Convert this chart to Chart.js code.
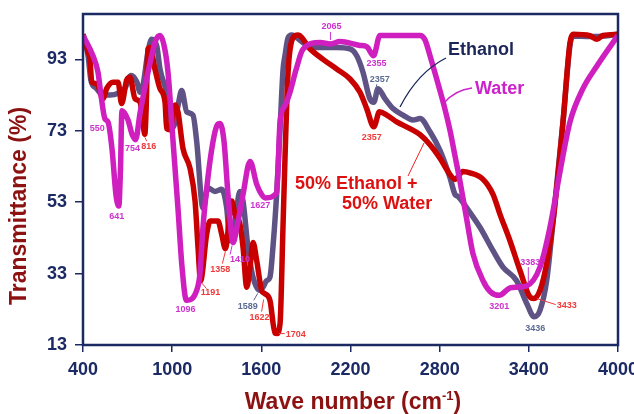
<!DOCTYPE html>
<html>
<head>
<meta charset="utf-8">
<script src="https://cdn.jsdelivr.net/npm/chart.js@4/dist/chart.umd.min.js"></script>
<style>
  html, body { margin: 0; padding: 0; background: #ffffff; }
  #wrap { width: 634px; height: 414px; }
</style>
</head>
<body>
<div id="wrap"><canvas id="c" width="634" height="414"></canvas></div>
<script>
// Axis ticks
const xTicks = [400, 1000, 1600, 2200, 2800, 3400, 4000];
const yTicks = [13, 33, 53, 73, 93];

// 50% ethanol + 50% water extract: wave number (cm-1) / transmittance (%)
const mixWn = [400, 434, 447, 459, 492, 535, 559, 602, 636, 660, 694, 716, 750, 784, 804, 816, 824, 837, 851, 884,
  918, 952, 963, 985, 1019, 1039, 1073, 1120, 1154, 1174, 1191, 1232, 1255, 1308, 1333, 1358, 1401, 1423, 1456, 1477,
  1502, 1524, 1544, 1569, 1602, 1622, 1658, 1692, 1704, 1726, 1745, 1759, 1780, 1813, 1847, 1928, 2015, 2107, 2197, 2264,
  2309, 2357, 2395, 2444, 2511, 2600, 2668, 2735, 2802, 2870, 2903, 2957, 3004, 3092, 3159, 3206, 3273, 3341, 3408, 3433,
  3495, 3563, 3630, 3677, 3697, 3811, 3859, 3899, 4000];
const mixT = [100, 95, 93, 86.6, 86.2, 82, 84.8, 86.6, 86.6, 80.6, 87.2, 88, 82, 81, 75, 72, 78, 95.9, 96.3, 90.3,
  84.8, 81, 73.6, 73.3, 80.2, 78.3, 68, 62.5, 53.3, 40.3, 31, 44, 47.7, 47.7, 44.1, 40, 53.3, 49.6, 46.9, 40.3,
  29.2, 34.8, 41.7, 36.6, 28.3, 27.4, 25.5, 16.3, 16.2, 19, 45, 65, 89.4, 99, 99.8, 95.9, 93, 90.3, 87.5, 83.8,
  79.2, 74.1, 78.3, 77.4, 75.5, 73.6, 71.9, 69.1, 65.3, 60.7, 59.4, 61.6, 61.2, 59.4, 55.2, 49.6, 42.2, 33.8, 26.4, 26,
  31, 47.7, 75.5, 97.7, 100, 99.6, 98.6, 99.7, 100];

// Ethanol extract
const ethWn = [400, 434, 454, 487, 535, 582, 636, 683, 723, 763, 784, 804, 837, 862, 896, 918, 963, 1006, 1039, 1064,
  1098, 1140, 1165, 1207, 1241, 1288, 1333, 1367, 1389, 1423, 1456, 1477, 1510, 1544, 1589, 1611, 1636, 1658, 1678, 1703,
  1726, 1746, 1759, 1780, 1804, 1880, 1948, 2107, 2197, 2242, 2284, 2330, 2357, 2385, 2432, 2486, 2553, 2620, 2668, 2735,
  2802, 2870, 2903, 2924, 2982, 3072, 3159, 3226, 3318, 3386, 3436, 3475, 3520, 3563, 3630, 3677, 3697, 3811, 3899, 4000];
const ethT = [100, 94, 87, 85, 83, 83, 83.5, 85, 88.5, 86.6, 83.8, 85.8, 95, 98.6, 96.8, 90.3, 83.8, 74, 80, 84.3,
  78.3, 77.4, 70, 51.4, 57, 56, 56.6, 51.4, 42.2, 47.7, 56, 53.3, 40.3, 32, 28.3, 29.2, 31, 32, 40.3, 55.2,
  73.6, 90, 94, 99, 99.8, 97.7, 96.3, 96.3, 95.9, 94, 89.4, 82, 81, 84.8, 82, 79.2, 77.4, 76, 76.4, 72.7,
  67.5, 59.8, 55.2, 54.6, 51.4, 45.9, 39.4, 34.8, 31, 24.6, 20.9, 22.7, 31, 47.7, 75.5, 97, 99.5, 99.4, 99.5, 100];

// Water extract
const watWn = [400, 467, 501, 521, 548, 568, 595, 622, 641, 652, 662, 703, 730, 754, 784, 851, 891, 918, 945, 972,
  1006, 1039, 1066, 1096, 1165, 1187, 1207, 1241, 1275, 1302, 1322, 1349, 1376, 1410, 1436, 1477, 1524, 1569, 1604, 1627,
  1703, 1712, 1726, 1759, 1793, 1833, 1880, 1995, 2065, 2129, 2264, 2311, 2355, 2398, 2668, 2701, 2735, 2790, 2836, 2870,
  2903, 2937, 2984, 3024, 3092, 3139, 3201, 3273, 3320, 3383, 3475, 3542, 3610, 3677, 3764, 3859, 4000];
const watT = [99.7, 94, 89.4, 83, 76.3, 75.5, 68, 55, 51.9, 62, 78.6, 76, 72, 70.5, 78, 92, 98.5, 99.7, 97, 89.4,
  70, 51.3, 35, 25.5, 28.3, 33, 45.8, 60, 70, 74.5, 75, 70, 55, 41.7, 46, 55.2, 64.4, 58, 55, 54.2,
  55.6, 62, 75.5, 80, 83.8, 90, 95.8, 97.7, 97.3, 98, 96.9, 96.5, 94, 99.7, 99.7, 98.5, 94, 86, 79, 73,
  66, 58.8, 47.7, 38.6, 31, 28, 26.9, 29, 29.2, 29.5, 34.8, 45.9, 61.6, 75.5, 84.8, 91.2, 99.7];

// Labelled band positions (cm-1)
const watPeaks = [550, 641, 754, 1096, 1410, 1627, 2065, 2355, 3201, 3383];
const ethPeaks = [1589, 2357, 3436];
const mixPeaks = [816, 1191, 1358, 1622, 1704, 2357, 3433];

const FONT = "'Liberation Sans', Arial, Helvetica, sans-serif";
const NAVY = '#1b2a63';
const TITLE_RED = '#8c1212';

const series = {
  water: { wn: watWn, t: watT, peaks: watPeaks, line: '#cf1fbf', text: '#cc33cc' },
  eth:   { wn: ethWn, t: ethT, peaks: ethPeaks, line: '#5f5285', text: '#5b6b92' },
  mix:   { wn: mixWn, t: mixT, peaks: mixPeaks, line: '#c80000', text: '#f03a3a' }
};

// Where each band label sits relative to its band (px), plus optional leader line
const labelStyle = {
  'water-550':  { dx: -8, dy: 9 },
  'water-641':  { dx: -2, dy: 10 },
  'water-754':  { dx: -3, dy: 9 },
  'water-1096': { dx: -1, dy: 9 },
  'water-1410': { dx: 7, dy: 17, lead: [-1, 3, -3, 12] },
  'water-1627': { dx: -5, dy: 8 },
  'water-2065': { dx: 1, dy: -17, lead: [0, -4, 0, -12] },
  'water-2355': { dx: 3, dy: 8 },
  'water-3201': { dx: 0, dy: 11 },
  'water-3383': { dx: 4, dy: -24, lead: [2, -2, 2, -19] },
  'eth-1589':   { dx: -12, dy: 16, lead: [-2, 3, -6, 10] },
  'eth-2357':   { dx: 6, dy: -23, lead: [0, -4, 3, -18] },
  'eth-3436':   { dx: 1, dy: 12 },
  'mix-816':    { dx: 4, dy: 12, lead: [0, 3, 2, 7] },
  'mix-1191':   { dx: 10, dy: 12, lead: [1, 2, 6, 8] },
  'mix-1358':   { dx: -5, dy: 21, lead: [0, 3, -3, 15] },
  'mix-1622':   { dx: -5, dy: 24, lead: [-1, 6, -3, 18] },
  'mix-1704':   { dx: 9, dy: 1, align: 'left', lead: [2, 0, 8, 0] },
  'mix-2357':   { dx: -2, dy: 11 },
  'mix-3433':   { dx: 33, dy: 7, lead: [3, 0, 22, 6] }
};

function valueAt(wn, t, v) {
  for (let i = 0; i < wn.length - 1; i++) {
    if (v >= wn[i] && v <= wn[i + 1]) {
      const f = (v - wn[i]) / (wn[i + 1] - wn[i]);
      return t[i] + f * (t[i + 1] - t[i]);
    }
  }
  return t[t.length - 1];
}

const toPoints = (wn, t) => wn.map((w, i) => ({ x: w, y: t[i] }));

const overlay = {
  id: 'overlay',
  afterDatasetsDraw(chart) {
    const { ctx, scales: { x, y } } = chart;
    ctx.save();
    // band labels
    ctx.font = `bold 9px ${FONT}`;
    ctx.textBaseline = 'middle';
    for (const key of Object.keys(series)) {
      const s = series[key];
      for (const p of s.peaks) {
        const st = labelStyle[`${key}-${p}`] || { dx: 0, dy: 10 };
        const px = x.getPixelForValue(p);
        const py = y.getPixelForValue(valueAt(s.wn, s.t, p));
        ctx.fillStyle = s.text;
        ctx.strokeStyle = s.text;
        ctx.textAlign = st.align || 'center';
        ctx.fillText(String(p), px + st.dx, py + st.dy);
        if (st.lead) {
          ctx.lineWidth = 1;
          ctx.beginPath();
          ctx.moveTo(px + st.lead[0], py + st.lead[1]);
          ctx.lineTo(px + st.lead[2], py + st.lead[3]);
          ctx.stroke();
        }
      }
    }

    // series names with pointers
    ctx.font = `bold 18px ${FONT}`;
    ctx.textAlign = 'left';
    ctx.fillStyle = '#1c2658';
    ctx.fillText('Ethanol', 448, 50);
    ctx.strokeStyle = '#1c2658';
    ctx.lineWidth = 1.3;
    ctx.beginPath();
    ctx.moveTo(446, 58);
    ctx.quadraticCurveTo(418, 72, 400, 107);
    ctx.stroke();

    ctx.fillStyle = '#cc22cc';
    ctx.fillText('Water', 475, 89);
    ctx.strokeStyle = '#cc22cc';
    ctx.beginPath();
    ctx.moveTo(472, 88);
    ctx.quadraticCurveTo(455, 90, 444, 103);
    ctx.stroke();

    ctx.fillStyle = '#dd1111';
    ctx.fillText('50% Ethanol +', 295, 184);
    ctx.fillText('50% Water', 342, 204);
    ctx.strokeStyle = '#ee2222';
    ctx.lineWidth = 1;
    ctx.beginPath();
    ctx.moveTo(408, 176);
    ctx.lineTo(424, 143);
    ctx.stroke();
    ctx.restore();
  },
  afterDraw(chart) {
    const { ctx, chartArea: a } = chart;
    ctx.save();
    // plot frame
    ctx.strokeStyle = NAVY;
    ctx.lineWidth = 2.5;
    ctx.strokeRect(a.left, a.top, a.right - a.left, a.bottom - a.top);

    // axis titles
    ctx.fillStyle = TITLE_RED;
    ctx.font = `bold 23px ${FONT}`;
    ctx.textBaseline = 'middle';
    ctx.textAlign = 'center';
    ctx.save();
    ctx.translate(20, 206);
    ctx.rotate(-Math.PI / 2);
    ctx.fillText('Transmittance (%)', 0, 0);
    ctx.restore();

    const main = 'Wave number (cm';
    const sup = '-1';
    const close = ')';
    ctx.font = `bold 23px ${FONT}`;
    const w1 = ctx.measureText(main).width;
    const w3 = ctx.measureText(close).width;
    ctx.font = `bold 13px ${FONT}`;
    const w2 = ctx.measureText(sup).width;
    let sx = 353 - (w1 + w2 + w3) / 2;
    ctx.textAlign = 'left';
    ctx.font = `bold 23px ${FONT}`;
    ctx.fillText(main, sx, 403);
    ctx.font = `bold 13px ${FONT}`;
    ctx.fillText(sup, sx + w1, 396);
    ctx.font = `bold 23px ${FONT}`;
    ctx.fillText(close, sx + w1 + w2, 403);
    ctx.restore();
  }
};

const line = (label, key, order) => ({
  label,
  data: toPoints(series[key].wn, series[key].t),
  borderColor: series[key].line,
  backgroundColor: series[key].line,
  borderWidth: 5.5,
  pointRadius: 0,
  cubicInterpolationMode: 'monotone',
  fill: false,
  order
});

new Chart(document.getElementById('c'), {
  type: 'line',
  data: {
    datasets: [
      line('Water', 'water', 0),
      line('50% Ethanol + 50% Water', 'mix', 1),
      line('Ethanol', 'eth', 2)
    ]
  },
  options: {
    responsive: false,
    animation: false,
    layout: { padding: { left: 0, top: 14, right: 16, bottom: 0 } },
    plugins: { legend: { display: false }, tooltip: { enabled: false } },
    scales: {
      x: {
        type: 'linear',
        min: 400,
        max: 4000,
        afterBuildTicks: (s) => { s.ticks = xTicks.map(v => ({ value: v })); },
        afterFit: (s) => { s.height = 69; s.paddingLeft = 0; s.paddingRight = 0; },
        grid: { drawOnChartArea: false, drawTicks: true, tickLength: 7, color: NAVY, lineWidth: 1.5 },
        border: { display: false },
        ticks: {
          color: NAVY, font: { family: FONT, size: 18, weight: 'bold' }, padding: 7, maxRotation: 0,
          callback: (v) => String(v)
        }
      },
      y: {
        type: 'linear',
        min: 13,
        max: 105.7,
        afterBuildTicks: (s) => { s.ticks = yTicks.map(v => ({ value: v })); },
        afterFit: (s) => { s.width = 83; s.paddingTop = 0; s.paddingBottom = 0; },
        grid: { drawOnChartArea: false, drawTicks: true, tickLength: 8, color: NAVY, lineWidth: 1.5 },
        border: { display: false },
        ticks: {
          color: NAVY, font: { family: FONT, size: 18, weight: 'bold' }, padding: 8,
          callback: (v) => String(v)
        }
      }
    }
  },
  plugins: [overlay]
});
</script>
</body>
</html>
